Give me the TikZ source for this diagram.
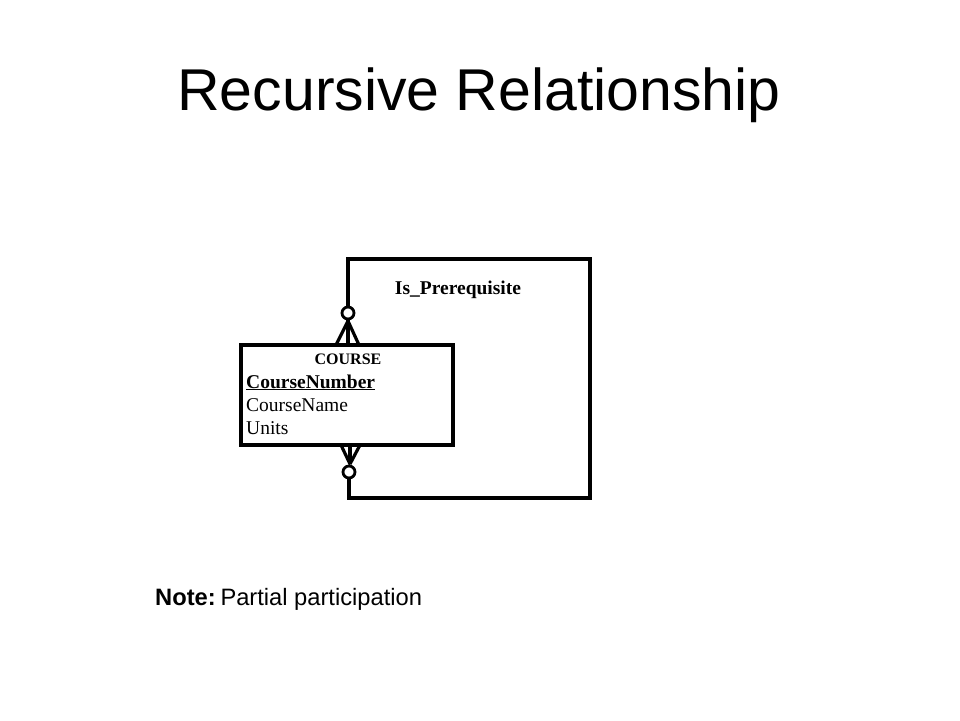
\documentclass[tikz,border=0pt]{standalone}
\usepackage{fontspec}
\setmainfont{Liberation Serif}
\newfontfamily\arialfont{Liberation Sans}
\begin{document}
\begin{tikzpicture}[x=1pt,y=-1pt,
  entity/.style={draw,line width=3.2pt,minimum width=212pt,minimum height=100pt,inner sep=0pt},
  optcirc/.style={draw,circle,line width=2.8pt,minimum size=12pt,inner sep=0pt},
  relline/.style={line width=3.2pt},
  attr/.style={anchor=base west,inner sep=0pt,font=\fontsize{19.5}{20}\selectfont},
  lbl/.style={inner sep=0pt,font=\bfseries\fontsize{19.5}{20}\selectfont}
]
\useasboundingbox (0,0) rectangle (960,720);
\fill[white] (0,0) rectangle (960,720);

% title
\node[anchor=base,inner sep=0pt,font=\arialfont\fontsize{59}{60}\selectfont] (title) at (479,110) {Recursive Relationship};

% entity
\node[entity] (course) at (347,395) {};
\node[anchor=base,inner sep=0pt,font=\bfseries\fontsize{16}{16}\selectfont] (ename) at (348,364) {COURSE};
\node[attr,font=\bfseries\fontsize{19.5}{20}\selectfont] (a1) at (246,388) {\underline{CourseNumber}};
\node[attr] (a2) at (246,411) {CourseName};
\node[attr] (a3) at (246,434) {Units};

% relationship label
\node[lbl] (rlabel) at (458,290) {Is\_Prerequisite};

% optional circles
\node[optcirc] (c1) at (348,313) {};
\node[optcirc] (c2) at (349,472) {};

% loop
\coordinate (tl) at (348,259);
\coordinate (tr) at (590,259);
\coordinate (br) at (590,498);
\coordinate (bl) at (349,498);
\draw[relline,line join=miter] (c1.north) -- (tl) -- (tr) -- (br) -- (bl) -- (c2.south);

% crow's foot top
\coordinate (ap1) at (348,321);
\draw[relline] (ap1) -- (336,345);
\draw[relline] (ap1) -- (348,345);
\draw[relline] (ap1) -- (359,345);
\draw[relline] (c1.south) -- (ap1);

% crow's foot bottom
\coordinate (ap2) at (350,464);
\draw[relline] (ap2) -- (341,445);
\draw[relline] (ap2) -- (350,445);
\draw[relline] (ap2) -- (360,445);
\draw[relline] (c2.north) -- (ap2);

% note
\node[anchor=base west,inner sep=0pt,font=\arialfont\fontsize{23.7}{25}\selectfont] (note) at (155,605) {\textbf{Note:}\hspace{0.2em}Partial participation};
\end{tikzpicture}
\end{document}
